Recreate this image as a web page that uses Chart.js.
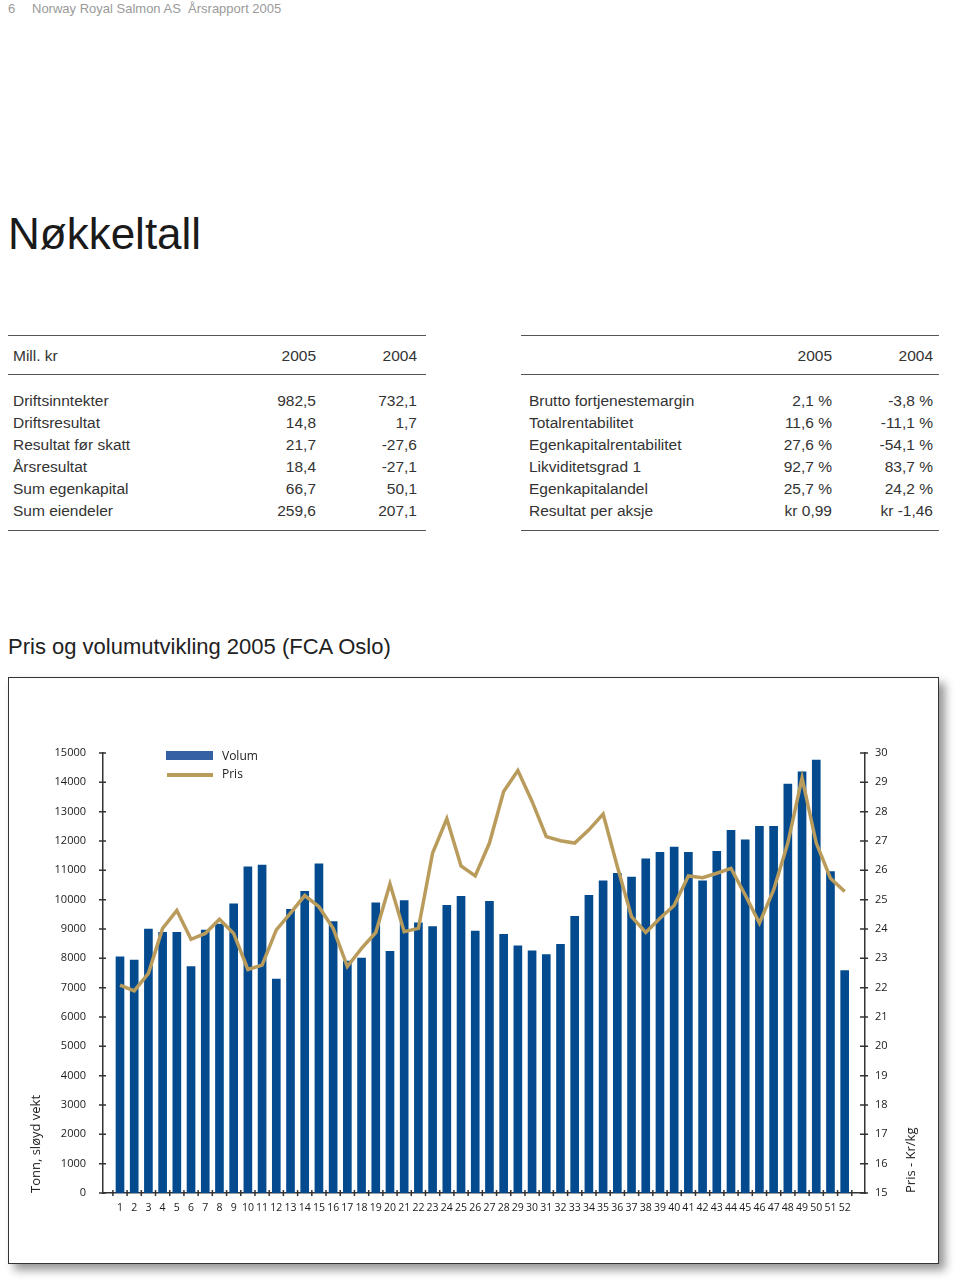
<!DOCTYPE html>
<html>
<head>
<meta charset="utf-8">
<script src="https://cdn.jsdelivr.net/npm/chart.js@4"></script>
<style>
  body { margin: 0; background: #fff; font-family: "Liberation Sans", Arial, sans-serif; }
  .abs { position: absolute; white-space: pre; }
  .hdr { font-size: 13px; line-height: 16px; color: #9a9a9a; }
  .title { font-size: 44px; line-height: 50px; color: #1a1a1a; }
  .row { font-size: 15.5px; line-height: 22px; color: #333; }
  .rule { position: absolute; height: 0; border-top: 1.5px solid #555; }
  .sub { font-size: 22px; line-height: 26px; color: #222; }
  .box { position: absolute; left: 8px; top: 677px; width: 929px; height: 585px;
         border: 1.5px solid #333; background: #fff; box-shadow: 6px 6px 9px rgba(0,0,0,0.42); }
  .small { font-family: "Open Sans", sans-serif; font-size: 12px; line-height: 14px; color: #222; }
  .axt { font-family: "Open Sans", sans-serif; font-size: 13px; line-height: 14px; color: #222;
         transform: rotate(-90deg); transform-origin: 0 0; }
</style>
</head>
<body>
<div class="abs hdr" style="left:8px;top:1px">6</div>
<div class="abs hdr" style="left:32px;top:1px">Norway Royal Salmon AS  Årsrapport 2005</div>
<div class="abs title" style="left:8px;top:209px">Nøkkeltall</div>

<div class="rule" style="left:8px;width:418px;top:335px"></div>
<div class="rule" style="left:8px;width:418px;top:374px"></div>
<div class="rule" style="left:8px;width:418px;top:530px"></div>
<div class="rule" style="left:521px;width:418px;top:335px"></div>
<div class="rule" style="left:521px;width:418px;top:374px"></div>
<div class="rule" style="left:521px;width:418px;top:530px"></div>
<div id="tables"></div>

<div class="abs sub" style="left:8px;top:634px">Pris og volumutvikling 2005 (FCA Oslo)</div>
<div class="box"></div>
<canvas id="chart" width="928" height="584" style="position:absolute;left:9px;top:678px"></canvas>

<div style="position:absolute;left:166px;top:751px;width:47px;height:9px;background:#3560a2"></div>
<div class="abs small" style="left:222px;top:749px">Volum</div>
<div style="position:absolute;left:167px;top:773px;width:46px;height:3.5px;background:#b99c5c"></div>
<div class="abs small" style="left:222px;top:767px">Pris</div>
<div class="abs axt" style="left:28px;top:1193px">Tonn, sløyd vekt</div>
<div class="abs axt" style="left:903px;top:1193px">Pris - Kr/kg</div>

<script>
// Nøkkeltall tables
var leftHead = ['Mill. kr', '2005', '2004'];
var leftRows = [
  ['Driftsinntekter', '982,5', '732,1'],
  ['Driftsresultat', '14,8', '1,7'],
  ['Resultat før skatt', '21,7', '-27,6'],
  ['Årsresultat', '18,4', '-27,1'],
  ['Sum egenkapital', '66,7', '50,1'],
  ['Sum eiendeler', '259,6', '207,1']
];
var rightHead = ['', '2005', '2004'];
var rightRows = [
  ['Brutto fortjenestemargin', '2,1 %', '-3,8 %'],
  ['Totalrentabilitet', '11,6 %', '-11,1 %'],
  ['Egenkapitalrentabilitet', '27,6 %', '-54,1 %'],
  ['Likviditetsgrad 1', '92,7 %', '83,7 %'],
  ['Egenkapitalandel', '25,7 %', '24,2 %'],
  ['Resultat per aksje', 'kr 0,99', 'kr -1,46']
];

// Pris og volum per uke
var weeks = [1, 2, 3, 4, 5, 6, 7, 8, 9, 10, 11, 12, 13, 14, 15, 16, 17, 18, 19, 20, 21, 22, 23, 24, 25, 26,
  27, 28, 29, 30, 31, 32, 33, 34, 35, 36, 37, 38, 39, 40, 41, 42, 43, 44, 45, 46, 47, 48, 49, 50, 51, 52];
var volum = [8050, 7940, 9000, 8890, 8890, 7720, 8960, 9170, 9860, 11120, 11180, 7290, 9670, 10280, 11220, 9250,
  7910, 8010, 9890, 8240, 9970, 9210, 9080, 9810, 10110, 8930, 9940, 8820, 8430, 8260, 8130, 8480, 9430, 10150,
  10640, 10900, 10770, 11390, 11610, 11790, 11610, 10640, 11650, 12360, 12040, 12500, 12500, 13940, 14360, 14760,
  10960, 7580];
var pris = [22.09, 21.89, 22.49, 24.02, 24.63, 23.65, 23.85, 24.33, 23.85, 22.62, 22.77, 23.97, 24.54, 25.14, 24.76,
  24.02, 22.72, 23.34, 23.88, 25.54, 23.91, 24.02, 26.59, 27.76, 26.15, 25.81, 26.93, 28.69, 29.40, 28.35, 27.15,
  27.01, 26.93, 27.38, 27.92, 26.13, 24.42, 23.88, 24.37, 24.80, 25.81, 25.75, 25.90, 26.07, 25.16, 24.20, 25.33,
  26.93, 29.15, 26.93, 25.73, 25.28];

function addTable(labelX, col1R, col2R, head, rows) {
  var host = document.getElementById('tables');
  var all = [head].concat(rows);
  all.forEach(function (r, i) {
    var top = i === 0 ? 345 : 389.6 + (i - 1) * 22;
    var html = '<div class="abs row" style="left:' + labelX + 'px;top:' + top + 'px">' + r[0] + '</div>' +
      '<div class="abs row" style="right:' + (960 - col1R) + 'px;top:' + top + 'px">' + r[1] + '</div>' +
      '<div class="abs row" style="right:' + (960 - col2R) + 'px;top:' + top + 'px">' + r[2] + '</div>';
    host.insertAdjacentHTML('beforeend', html);
  });
}
addTable(13, 316, 417, leftHead, leftRows);
addTable(529, 832, 933, rightHead, rightRows);

// small tick marks that cross the axis lines
var tickMarks = {
  id: 'tickMarks',
  afterDatasetsDraw: function (chart) {
    var ctx = chart.ctx, x = chart.scales.x, y = chart.scales.y, y1 = chart.scales.y1;
    ctx.save();
    ctx.strokeStyle = '#333';
    ctx.lineWidth = 1.5;
    ctx.beginPath();
    y.ticks.forEach(function (t) {
      var py = y.getPixelForValue(t.value);
      ctx.moveTo(y.right - 4, py); ctx.lineTo(y.right + 3, py);
    });
    y1.ticks.forEach(function (t) {
      var py = y1.getPixelForValue(t.value);
      ctx.moveTo(y1.left - 5, py); ctx.lineTo(y1.left + 3, py);
    });
    for (var i = 0; i <= weeks.length; i++) {
      var px = x.getPixelForValue(weeks[0] - 0.5 + i);
      ctx.moveTo(px, x.top - 3); ctx.lineTo(px, x.top + 3);
    }
    ctx.stroke();
    ctx.restore();
  }
};

var tickFont = { family: 'Open Sans', size: 11 };
var ctx = document.getElementById('chart').getContext('2d');
var chart = new Chart(ctx, {
  type: 'bar',
  data: {
    labels: weeks,
    datasets: [{
      type: 'line',
      label: 'Pris',
      data: pris,
      yAxisID: 'y1',
      borderColor: '#b99c5c',
      borderWidth: 3.5,
      pointRadius: 0,
      tension: 0,
      order: 0
    }, {
      label: 'Volum',
      data: volum,
      yAxisID: 'y',
      backgroundColor: '#034b8e',
      barThickness: 8,
      order: 1
    }]
  },
  options: {
    responsive: false,
    animation: false,
    layout: { padding: { top: 75, left: 0, right: 0, bottom: 0 } },
    plugins: { legend: { display: false }, tooltip: { enabled: false } },
    scales: {
      x: {
        type: 'linear',
        offset: false,
        min: -0.196,
        max: 53.43,
        bounds: 'data',
        grid: { display: false, drawTicks: false, offset: false },
        border: { display: true, color: '#333', width: 1.5 },
        afterBuildTicks: function (scale) {
          scale.ticks = weeks.map(function (w) { return { value: w }; });
        },
        afterFit: function (scale) { scale.height = 69; },
        ticks: {
          autoSkip: false, maxRotation: 0, padding: 9, color: '#1a1a1a',
          font: { family: 'Open Sans', size: 10.5 },
          callback: function (v) { return String(v); }
        }
      },
      y: {
        position: 'left',
        min: 0,
        max: 15000,
        grid: { display: false, drawTicks: false },
        border: { display: true, color: '#333', width: 1.5 },
        afterFit: function (scale) { scale.width = 94; },
        ticks: {
          stepSize: 1000, padding: 17, color: '#1a1a1a', font: tickFont,
          callback: function (v) { return String(v); }
        }
      },
      y1: {
        position: 'right',
        min: 15,
        max: 30,
        grid: { display: false, drawTicks: false },
        border: { display: true, color: '#333', width: 1.5 },
        afterFit: function (scale) { scale.width = 72; },
        ticks: {
          stepSize: 1, padding: 10, color: '#1a1a1a', font: tickFont,
          callback: function (v) { return String(v); }
        }
      }
    }
  },
  plugins: [tickMarks]
});
</script>
</body>
</html>
